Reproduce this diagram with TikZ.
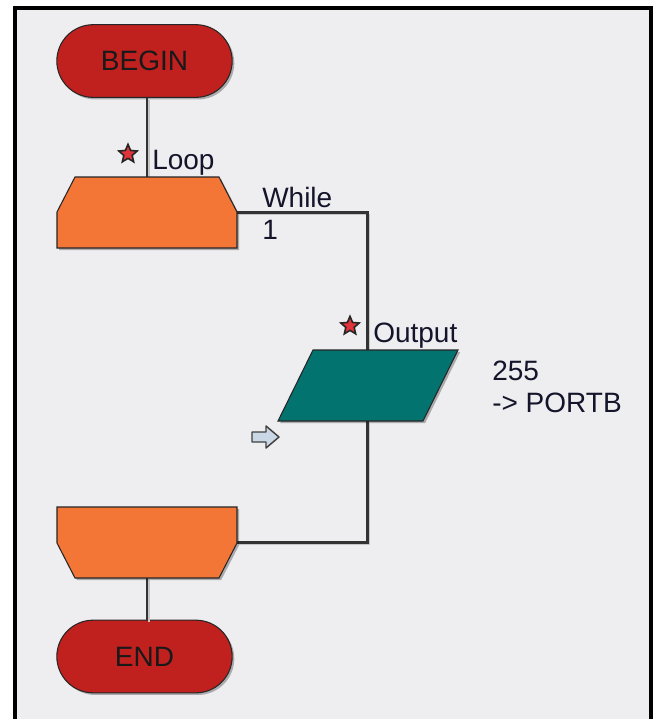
\documentclass[tikz,border=0pt]{standalone}
\usepackage{fontspec}
\setmainfont{Liberation Sans}
\usetikzlibrary{shapes.misc,shapes.geometric,shadows,calc}

\definecolor{bgc}{HTML}{EEEEF1}
\definecolor{termred}{HTML}{C0211F}
\definecolor{loopor}{HTML}{F47637}
\definecolor{outteal}{HTML}{03736F}
\definecolor{wire}{HTML}{333333}
\definecolor{lbl}{HTML}{14142A}
\definecolor{starred}{HTML}{E0343A}
\definecolor{markfill}{HTML}{C9D7E6}

\begin{document}
\begin{tikzpicture}[x=0.75pt,y=-0.75pt,
  softshadow/.style={drop shadow={shadow xshift=1.6pt,shadow yshift=-1.6pt,opacity=0.28,fill=black}},
  terminal/.style={rounded rectangle, minimum width=131.5pt, minimum height=54.5pt,
    fill=termred, draw=black!85, line width=0.8pt, softshadow,
    font=\fontsize{21}{25}\selectfont, text=black!90, inner sep=0pt},
  anchorbox/.style={rectangle, inner sep=0pt, draw=none},
  shapeline/.style={draw=black!85, line width=0.8pt, softshadow},
  wirestyle/.style={draw=wire, line width=1.6pt},
  wireshadow/.style={draw=gray!45, line width=1.1pt},
  label/.style={font=\fontsize{21}{25}\selectfont, text=lbl, inner sep=0pt, anchor=base west},
  starmark/.style={star, star points=5, star point ratio=2.2, minimum size=14.5pt,
    inner sep=0pt, fill=starred, draw=black!85, line width=1.2pt}
]
\useasboundingbox (0,0) rectangle (659,719);
% canvas and frame
\fill[white] (0,0) rectangle (659,719);
\fill[bgc] (15,8) rectangle (650.5,719);
\draw[line width=3pt, line join=miter] (15,719) -- (15,8) -- (650.5,8) -- (650.5,719);

% anchor nodes for shapes drawn below
\node[anchorbox, minimum width=135pt, minimum height=53.25pt] (loop) at (147,212.5) {};
\node[anchorbox, minimum width=108.75pt, minimum height=53.25pt] (output) at (367.5,385.5) {};
\node[anchorbox, minimum width=135pt, minimum height=53.25pt] (loopend) at (147,542.5) {};

% terminals
\node[terminal] (begin) at (144.5,61) {BEGIN};
\node[terminal] (end) at (144.5,656.5) {END};

% connector shadows
\begin{scope}[transform canvas={shift={(1.5pt,-1.5pt)}}]
\draw[wireshadow] (begin.south -| loop.north) -- (loop.north);
\draw[wireshadow] (loop.east) -| (output.north);
\draw[wireshadow] (output.south) |- (loopend.east);
\draw[wireshadow] (loopend.south) -- (loopend.south |- end.north);
\end{scope}

% connectors
\draw[wirestyle] (begin.south -| loop.north) -- (loop.north);
\draw[wirestyle] (loop.east) -| (output.north);
\draw[wirestyle] (output.south) |- (loopend.east);
\draw[wirestyle] (loopend.south) -- (loopend.south |- end.north);

% loop start shape
\path[shapeline, fill=loopor] (75,177) -- (219,177) -- (237,212) -- (237,248) -- (57,248) -- (57,212) -- cycle;
% output parallelogram
\path[shapeline, fill=outteal] (313,350) -- (458,350) -- (423,421) -- (278,421) -- cycle;
% loop end shape
\path[shapeline, fill=loopor] (57,507) -- (237,507) -- (237,543) -- (219,578) -- (75,578) -- (57,543) -- cycle;

% stars
\node[starmark] (star1) at (128,154) {};
\node[starmark] (star2) at (350,326) {};

% hollow arrow marker
\path[draw=black!75, fill=markfill, line width=1.1pt, line join=round]
  (252,432) -- (266,432) -- (266,426) -- (279,437) -- (266,448) -- (266,442) -- (252,442) -- cycle;

% labels
\node[label] (lloop) at (152,169) {Loop};
\node[label] (lwhile) at (262,207) {While};
\node[label] (lone) at (262,239) {1};
\node[label] (lout) at (373,342) {Output};
\node[label] (lval) at (492,380) {255};
\node[label] (lport) at (492,412) {-> PORTB};
\end{tikzpicture}
\end{document}
